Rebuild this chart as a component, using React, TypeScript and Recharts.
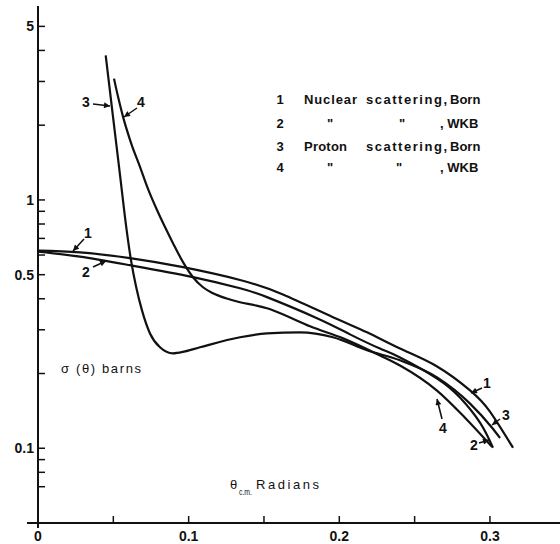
import React from 'react';
import { LineChart, Line, XAxis, YAxis } from 'recharts';

// theta (radians, c.m.) and sigma (barns)
const nuclearBornTheta = [0, 0.0279, 0.0611, 0.0963, 0.1341, 0.1626, 0.1958, 0.2184, 0.2403, 0.2649, 0.2868, 0.3, 0.3153];
const nuclearBornSigma = [0.625, 0.615, 0.583, 0.536, 0.476, 0.416, 0.337, 0.293, 0.252, 0.2135, 0.171, 0.1405, 0.1005];

const nuclearWkbTheta = [0, 0.0279, 0.0611, 0.1029, 0.1341, 0.152, 0.1852, 0.2071, 0.227, 0.2403, 0.2649, 0.2801, 0.2934, 0.302];
const nuclearWkbSigma = [0.619, 0.591, 0.546, 0.489, 0.441, 0.406, 0.334, 0.2875, 0.252, 0.232, 0.191, 0.16, 0.1268, 0.1005];

const protonBornTheta = [0.04494, 0.04978, 0.05443, 0.05841, 0.06173, 0.06505, 0.06903, 0.07434, 0.08098, 0.08961, 0.09758, 0.1075, 0.1341, 0.152, 0.1739, 0.1958, 0.2184, 0.2403, 0.2649, 0.2868, 0.3014, 0.3067];
const protonBornSigma = [3.82, 2.165, 1.262, 0.792, 0.572, 0.449, 0.359, 0.29, 0.255, 0.241, 0.2455, 0.255, 0.28, 0.29, 0.293, 0.28, 0.248, 0.226, 0.193, 0.1513, 0.121, 0.11];

const protonWkbTheta = [0.05045, 0.0531, 0.05642, 0.06173, 0.0677, 0.07302, 0.07899, 0.0843, 0.08961, 0.09625, 0.10289, 0.10952, 0.11616, 0.12479, 0.13408, 0.14404, 0.15201, 0.16396, 0.18055, 0.20246, 0.22702, 0.24029, 0.26485, 0.28344, 0.30136];
const protonWkbSigma = [3.08, 2.607, 2.165, 1.699, 1.359, 1.108, 0.911, 0.778, 0.67, 0.5616, 0.4885, 0.445, 0.421, 0.4018, 0.3872, 0.3765, 0.3662, 0.343, 0.3097, 0.277, 0.2364, 0.2154, 0.1707, 0.1328, 0.1014];

const xTickValues = [0, 0.05, 0.1, 0.15, 0.2, 0.25, 0.3];
const xTickLabels = ['0', '', '0.1', '', '0.2', '', '0.3'];
const yTickValues = [0.07, 0.08, 0.09, 0.1, 0.2, 0.3, 0.4, 0.5, 0.6, 0.7, 0.8, 0.9, 1, 2, 3, 4, 5];
const yTickLabels = ['', '', '', '0.1', '', '', '', '0.5', '', '', '', '', '1', '', '', '', '5'];

const legendRows = [
  { num: '1', a: 'Nuclear', b: 'scattering,', c: 'Born' },
  { num: '2', a: '"', b: '"', c: ', WKB' },
  { num: '3', a: 'Proton', b: 'scattering,', c: 'Born' },
  { num: '4', a: '"', b: '"', c: ', WKB' },
];

const zip = (t: number[], s: number[]) => t.map((v, i) => ({ t: v, s: s[i] }));

const INK = '#111';
const FONT = '"Liberation Sans", Arial, sans-serif';

const tickStyle = { fontSize: 14, fontWeight: 'bold', fill: INK, fontFamily: FONT };

function Arrow({ x1, y1, x2, y2 }: { x1: number; y1: number; x2: number; y2: number }) {
  return <line x1={x1} y1={y1} x2={x2} y2={y2} stroke={INK} strokeWidth={1.5} markerEnd="url(#ah)" />;
}

function Num({ x, y, s }: { x: number; y: number; s: string }) {
  return (
    <text x={x} y={y + 5} textAnchor="middle" fontSize={14} fontWeight="bold" fill={INK} fontFamily={FONT}>
      {s}
    </text>
  );
}

export default function App() {
  const rowsY = [104, 127.5, 150.5, 172];
  return (
    <div style={{ position: 'absolute', left: 0, top: 0, width: 560, height: 544, background: '#fff' }}>
      <LineChart width={560} height={544} margin={{ top: 6, right: 0, bottom: 0, left: 0 }}>
        <XAxis
          dataKey="t"
          type="number"
          domain={[0, 0.3465]}
          allowDataOverflow
          ticks={xTickValues}
          interval={0}
          tickFormatter={(v: number) => xTickLabels[xTickValues.indexOf(v)] ?? ''}
          height={21}
          tickSize={-7}
          tickMargin={15}
          axisLine={{ stroke: INK, strokeWidth: 2 }}
          tickLine={{ stroke: INK, strokeWidth: 1.5 }}
          tick={tickStyle}
        />
        <YAxis
          dataKey="s"
          type="number"
          scale="log"
          domain={[0.05, 6.04]}
          allowDataOverflow
          ticks={yTickValues}
          interval={0}
          tickFormatter={(v: number) => yTickLabels[yTickValues.indexOf(v)] ?? ''}
          width={38}
          tickSize={-7}
          tickMargin={11}
          axisLine={{ stroke: INK, strokeWidth: 2 }}
          tickLine={{ stroke: INK, strokeWidth: 1.5 }}
          tick={tickStyle}
        />
        <Line data={zip(nuclearBornTheta, nuclearBornSigma)} dataKey="s" type="natural" stroke={INK} strokeWidth={2.2} dot={false} isAnimationActive={false} />
        <Line data={zip(nuclearWkbTheta, nuclearWkbSigma)} dataKey="s" type="natural" stroke={INK} strokeWidth={2.2} dot={false} isAnimationActive={false} />
        <Line data={zip(protonBornTheta, protonBornSigma)} dataKey="s" type="monotone" stroke={INK} strokeWidth={2.2} dot={false} isAnimationActive={false} />
        <Line data={zip(protonWkbTheta, protonWkbSigma)} dataKey="s" type="monotone" stroke={INK} strokeWidth={2.2} dot={false} isAnimationActive={false} />
      </LineChart>
      <svg width={560} height={544} style={{ position: 'absolute', left: 0, top: 0, pointerEvents: 'none' }}>
        <defs>
          <marker id="ah" viewBox="0 0 10 10" refX="10" refY="5" markerWidth="7" markerHeight="6" markerUnits="userSpaceOnUse" orient="auto">
            <path d="M0,0 L10,5 L0,10 z" fill={INK} />
          </marker>
        </defs>
        {/* axis extensions */}
        <line x1={27} y1={523} x2={38} y2={523} stroke={INK} strokeWidth={2} />
        <line x1={38} y1={523} x2={38} y2={528} stroke={INK} strokeWidth={2} />

        {/* legend */}
        {legendRows.map((r, i) => {
          const y = rowsY[i];
          const isDitto = r.a === '"';
          return (
            <g key={i} fontFamily={FONT} fontWeight="bold" fontSize={13} fill={INK}>
              <text x={280} y={y} textAnchor="middle">{r.num}</text>
              {isDitto ? (
                <>
                  <text x={330} y={y} textAnchor="middle">{r.a}</text>
                  <text x={i === 1 ? 402 : 399} y={y} textAnchor="middle">{r.b}</text>
                  <text x={440} y={y}>{r.c}</text>
                </>
              ) : (
                <>
                  <text x={304} y={y} textLength={i === 0 ? 53 : 43} lengthAdjust="spacing">{r.a}</text>
                  <text x={366} y={y} textLength={81} lengthAdjust="spacing">{r.b}</text>
                  <text x={450} y={y}>{r.c}</text>
                </>
              )}
            </g>
          );
        })}

        {/* axis titles */}
        <text x={61} y={373} fontFamily={FONT} fontSize={13} fill={INK} textLength={80} lengthAdjust="spacing">σ (θ) barns</text>
        <text x={230} y={489} fontFamily={FONT} fontSize={13} fill={INK}>θ</text>
        <text x={239} y={495} fontFamily={FONT} fontSize={9} fill={INK} textLength={13} lengthAdjust="spacingAndGlyphs">c.m.</text>
        <text x={256} y={489} fontFamily={FONT} fontSize={13} fill={INK} textLength={63} lengthAdjust="spacing">Radians</text>

        {/* curve labels, upper left */}
        <Num x={88} y={233} s="1" />
        <Arrow x1={84} y1={239} x2={73} y2={251} />
        <Num x={86} y={272} s="2" />
        <Arrow x1={93} y1={267} x2={106} y2={261} />
        <Num x={86} y={102} s="3" />
        <Arrow x1={93} y1={104} x2={110} y2={106} />
        <Num x={141} y={102} s="4" />
        <Arrow x1={137} y1={108} x2={124} y2={117} />

        {/* curve labels, lower right */}
        <Num x={487} y={383} s="1" />
        <Arrow x1={482} y1={388} x2={471} y2={393} />
        <Num x={506} y={415} s="3" />
        <Arrow x1={500} y1={419} x2={492} y2={425} />
        <Num x={474} y={445} s="2" />
        <Arrow x1={479} y1={443} x2={489} y2={440} />
        <Num x={443} y={428} s="4" />
        <Arrow x1={442} y1={419} x2={437} y2={399} />
      </svg>
    </div>
  );
}
